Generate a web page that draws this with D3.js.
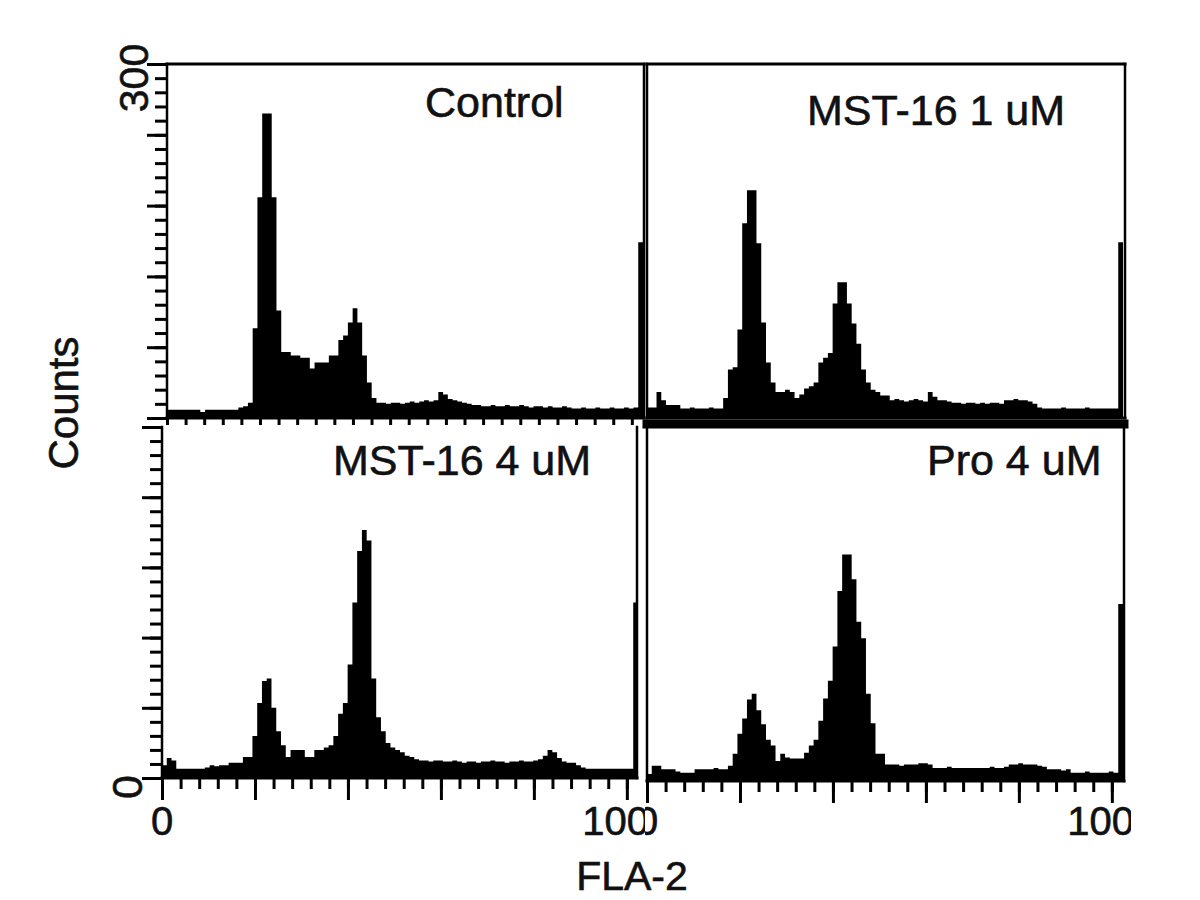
<!DOCTYPE html>
<html>
<head>
<meta charset="utf-8">
<script src="https://cdn.jsdelivr.net/npm/d3@7"></script>
<style>
  body { margin: 0; background: #fff; }
  svg { display: block; font-family: "Liberation Sans", Arial, Helvetica, sans-serif; }
  text { fill: #111; stroke: #111; stroke-width: 0.6px; }
</style>
</head>
<body>
<svg id="chart" width="1200" height="900"></svg>
<script>
const channelMax = 1024;
const yMax = 300;

const panelTitles = ["Control", "MST-16 1 uM", "MST-16 4 uM", "Pro 4 uM"];

// 100 bins over channels 0..1023
const controlCounts = [
  7, 7, 7, 7, 7, 7, 7, 5, 7, 7, 7, 7, 7, 7, 7, 9, 10, 13, 76, 187,
  258, 258, 187, 91, 56, 56, 53, 53, 51, 51, 42, 47, 47, 47, 53, 53, 66, 70, 81, 93,
  81, 53, 30, 17, 13, 13, 12, 13, 13, 12, 13, 14, 13, 14, 15, 14, 15, 22, 20, 16,
  15, 14, 13, 12, 11, 11, 10, 10, 11, 10, 10, 11, 10, 10, 11, 10, 9, 10, 10, 9,
  10, 9, 9, 10, 9, 8, 8, 9, 8, 8, 9, 8, 8, 9, 8, 8, 9, 8, 9, 149
];
const mst1Counts = [
  9, 9, 22, 15, 11, 11, 11, 8, 8, 9, 8, 8, 8, 9, 8, 8, 17, 41, 43, 75,
  165, 193, 193, 148, 81, 47, 30, 22, 22, 24, 22, 17, 20, 25, 27, 30, 47, 51, 55, 97,
  115, 115, 97, 80, 63, 41, 30, 24, 22, 19, 19, 15, 16, 15, 14, 15, 16, 15, 14, 22,
  18, 15, 15, 14, 13, 13, 12, 13, 13, 12, 13, 12, 13, 13, 12, 15, 15, 16, 15, 15,
  14, 12, 9, 8, 8, 8, 8, 9, 8, 8, 8, 8, 9, 8, 8, 8, 8, 8, 8, 149
];
const mst4Counts = [
  11, 17, 15, 8, 8, 8, 8, 8, 8, 9, 11, 10, 11, 11, 13, 13, 13, 18, 18, 36,
  64, 83, 85, 60, 40, 28, 18, 24, 24, 24, 18, 18, 24, 24, 26, 28, 36, 55, 64, 97,
  150, 194, 212, 203, 85, 52, 40, 30, 26, 24, 22, 19, 18, 16, 15, 15, 14, 15, 15, 14,
  14, 15, 14, 13, 14, 14, 13, 14, 14, 15, 14, 14, 13, 14, 14, 15, 14, 14, 15, 16,
  19, 24, 22, 17, 14, 13, 13, 11, 9, 8, 8, 8, 8, 8, 8, 8, 8, 8, 8, 150
];
const pro4Counts = [
  6, 13, 13, 10, 10, 10, 8, 7, 7, 7, 10, 10, 10, 10, 11, 10, 10, 13, 23, 40,
  53, 69, 74, 60, 48, 35, 30, 17, 23, 20, 19, 19, 19, 24, 30, 35, 51, 70, 85, 114,
  161, 192, 192, 171, 135, 121, 74, 49, 23, 23, 14, 14, 14, 13, 14, 14, 14, 15, 15, 14,
  11, 11, 11, 12, 11, 11, 11, 11, 11, 11, 11, 11, 12, 11, 11, 12, 14, 14, 15, 14,
  14, 14, 13, 12, 10, 10, 10, 9, 10, 7, 7, 7, 8, 7, 7, 7, 7, 8, 7, 150
];

const xMajorTicks = [0, 200, 400, 600, 800, 1000];
const xMinorStep = 40;
const yMajorStep = 60;
const yMinorStep = 12;
const xTickLabels = [{ value: 0, text: "0" }, { value: 1000, text: "1000" }];
const yTickLabels = [{ value: 300, text: "300" }, { value: 0, text: "0" }];
const xAxisTitle = "FLA-2";
const yAxisTitle = "Counts";

const panelWidth = 476;
const panels = [
  { title: panelTitles[0], counts: controlCounts, left: 167, right: 644, top: 64, base: 418, titleX: 425, titleY: 117, sides: "tlrb", topWidth: 3, yAxis: true, bottom: "small" },
  { title: panelTitles[1], counts: mst1Counts, left: 647, right: 1125, top: 64, base: 418, titleX: 807, titleY: 125, sides: "tlrb", topWidth: 3, yAxis: false, bottom: "none" },
  { title: panelTitles[2], counts: mst4Counts, left: 162, right: 637, top: 427, base: 778, titleX: 333, titleY: 475, sides: "lrb", topWidth: 3, yAxis: true, bottom: "full", clip: "clipLeft" },
  { title: panelTitles[3], counts: pro4Counts, left: 647, right: 1124, top: 427, base: 781, titleX: 927, titleY: 475, sides: "tlrb", topWidth: 9, yAxis: false, bottom: "full", clip: "clipRight" },
];

const svg = d3.select("#chart");

const defs = svg.append("defs");
defs.append("clipPath").attr("id", "clipLeft")
  .append("rect").attr("x", 0).attr("y", 0).attr("width", 645).attr("height", 900);
defs.append("clipPath").attr("id", "clipRight")
  .append("rect").attr("x", 645).attr("y", 0).attr("width", 486).attr("height", 900);

const binWidth = channelMax / 100;

panels.forEach(p => {
  const x = d3.scaleLinear().domain([0, channelMax]).range([p.left, p.left + panelWidth]);
  const y = d3.scaleLinear().domain([0, yMax]).range([p.base, p.top]);

  const pts = p.counts.map((c, i) => ({ ch: i * binWidth, c }));
  pts.push({ ch: channelMax, c: p.counts[p.counts.length - 1] });

  const area = d3.area()
    .curve(d3.curveStepAfter)
    .x(d => x(d.ch))
    .y0(y(0))
    .y1(d => y(d.c));

  const g = svg.append("g");

  g.append("path")
    .datum(pts)
    .attr("d", area)
    .attr("fill", "#000");

  // frame
  const frame = g.append("g").attr("stroke", "#000").attr("stroke-width", 2.5).attr("stroke-linecap", "square");
  if (p.sides.includes("t")) {
    const ty = p.top - (p.topWidth - 3) / 2;
    frame.append("line").attr("x1", p.left).attr("x2", p.right).attr("y1", ty).attr("y2", ty)
      .attr("stroke-width", p.topWidth);
  }
  if (p.sides.includes("l")) frame.append("line").attr("x1", p.left).attr("x2", p.left).attr("y1", p.top).attr("y2", p.base);
  if (p.sides.includes("r")) frame.append("line").attr("x1", p.right).attr("x2", p.right).attr("y1", p.top).attr("y2", p.base);
  if (p.sides.includes("b")) frame.append("line").attr("x1", p.left).attr("x2", p.right).attr("y1", p.base).attr("y2", p.base).attr("stroke-width", 3);

  if (p.yAxis) {
    [[yMinorStep, 12], [yMajorStep, 20]].forEach(([step, size]) => {
      g.append("g")
        .attr("transform", `translate(${p.left},0)`)
        .call(d3.axisLeft(y).tickValues(d3.range(0, yMax + 1, step)).tickSize(size).tickFormat(""))
        .call(a => a.select(".domain").remove())
        .selectAll("line").attr("stroke", "#000").attr("stroke-width", 3);
    });
  }

  if (p.bottom === "small") {
    g.append("g")
      .attr("transform", `translate(0,${p.base})`)
      .call(d3.axisBottom(x).tickValues(d3.range(0, channelMax, xMinorStep)).tickSize(7).tickFormat(""))
      .call(a => a.select(".domain").remove())
      .selectAll("line").attr("stroke", "#000").attr("stroke-width", 3);
  } else if (p.bottom === "full") {
    [[d3.range(0, channelMax, xMinorStep), 11], [xMajorTicks, 22]].forEach(([vals, size]) => {
      g.append("g")
        .attr("transform", `translate(0,${p.base})`)
        .call(d3.axisBottom(x).tickValues(vals).tickSize(size).tickFormat(""))
        .call(a => a.select(".domain").remove())
        .selectAll("line").attr("stroke", "#000").attr("stroke-width", 3);
    });

    g.append("g")
      .attr("clip-path", `url(#${p.clip})`)
      .selectAll("text")
      .data(xTickLabels)
      .join("text")
      .attr("x", d => x(d.value))
      .attr("y", 835)
      .attr("text-anchor", "middle")
      .attr("font-size", "40px")
      .text(d => d.text);
  }

  g.append("text")
    .attr("x", p.titleX)
    .attr("y", p.titleY)
    .attr("font-size", "43px")
    .text(p.title);
});

// y tick labels: 300 at top of upper row, 0 at bottom of lower row
const yTop = d3.scaleLinear().domain([0, yMax]).range([panels[0].base, panels[0].top]);
const yBottom = d3.scaleLinear().domain([0, yMax]).range([panels[2].base, panels[2].top]);
svg.append("text")
  .attr("transform", `translate(148,${yTop(yTickLabels[0].value) + 14}) rotate(-90)`)
  .attr("text-anchor", "middle")
  .attr("font-size", "41px")
  .text(yTickLabels[0].text);
svg.append("text")
  .attr("transform", `translate(142,${yBottom(yTickLabels[1].value) + 9}) rotate(-90)`)
  .attr("text-anchor", "middle")
  .attr("font-size", "43px")
  .text(yTickLabels[1].text);

svg.append("text")
  .attr("transform", "translate(78,403) rotate(-90)")
  .attr("text-anchor", "middle")
  .attr("font-size", "42px")
  .text(yAxisTitle);

svg.append("text")
  .attr("x", 632)
  .attr("y", 890)
  .attr("text-anchor", "middle")
  .attr("font-size", "41px")
  .text(xAxisTitle);
</script>
</body>
</html>
